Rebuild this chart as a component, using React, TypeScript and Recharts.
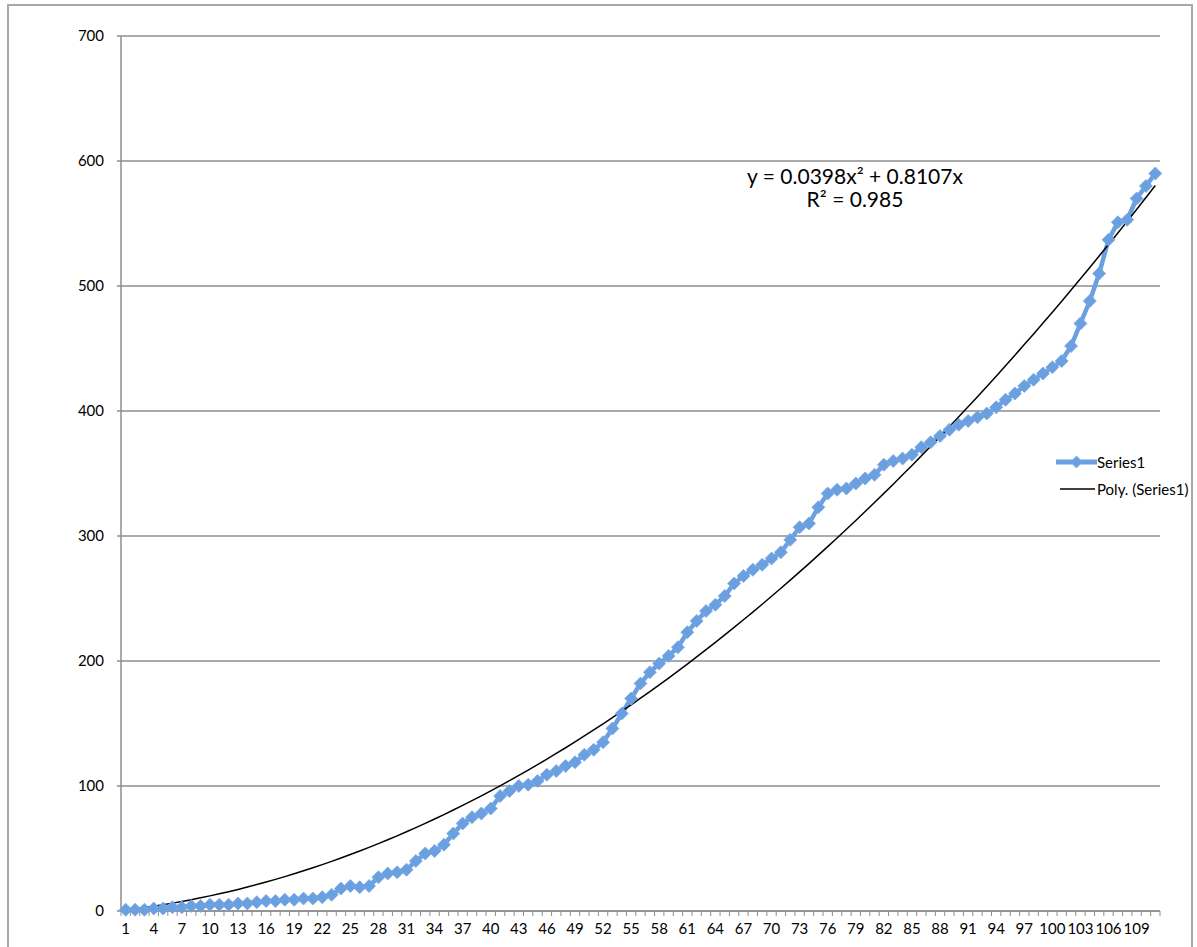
import React from 'react';
import { LineChart, Line, XAxis, YAxis, CartesianGrid } from 'recharts';

const categories: string[] = Array.from({ length: 111 }, (_, i) => String(i + 1));

const series1: number[] = [
  1, 1, 1, 2, 2, 3, 3, 4, 4, 5,
  5, 5, 6, 6, 7, 8, 8, 9, 9, 10,
  10, 11, 13, 18, 20, 19, 20, 27, 30, 31,
  33, 40, 46, 48, 53, 62, 70, 75, 78, 82,
  92, 96, 100, 101, 104, 109, 112, 116, 119, 125,
  129, 135, 146, 158, 170, 182, 191, 198, 204, 211,
  223, 232, 240, 245, 252, 262, 268, 273, 277, 282,
  287, 297, 307, 310, 323, 334, 337, 338, 342, 346,
  349, 357, 360, 362, 365, 371, 375, 380, 385, 389,
  392, 395, 398, 403, 409, 414, 420, 425, 430, 435,
  440, 452, 470, 488, 510, 537, 551, 553, 570, 580,
  590,
];

// Poly. (Series1) trendline values as printed: y = 0.0398x² + 0.8107x
const trendValues: number[] = [
  0.85, 1.78, 2.79, 3.88, 5.05, 6.3, 7.63, 9.03, 10.52, 12.09,
  13.73, 15.46, 17.27, 19.15, 21.12, 23.16, 25.28, 27.49, 29.77, 32.13,
  34.58, 37.1, 39.7, 42.38, 45.14, 47.98, 50.9, 53.9, 56.98, 60.14,
  63.38, 66.7, 70.1, 73.57, 77.13, 80.77, 84.48, 88.28, 92.15, 96.11,
  100.14, 104.26, 108.45, 112.72, 117.08, 121.51, 126.02, 130.61, 135.28, 140.04,
  144.87, 149.78, 154.77, 159.83, 164.98, 170.21, 175.52, 180.91, 186.38, 191.92,
  197.55, 203.25, 209.04, 214.91, 220.85, 226.88, 232.98, 239.16, 245.43, 251.77,
  258.19, 264.69, 271.28, 277.94, 284.68, 291.5, 298.4, 305.38, 312.44, 319.58,
  326.79, 334.09, 341.47, 348.93, 356.46, 364.08, 371.78, 379.55, 387.41, 395.34,
  403.36, 411.45, 419.63, 427.88, 436.21, 444.62, 453.12, 461.69, 470.34, 479.07,
  487.88, 496.77, 505.74, 514.79, 523.92, 533.13, 542.42, 551.78, 561.23, 570.76,
  580.36,
];

const yTicks: number[] = [0, 100, 200, 300, 400, 500, 600, 700];

const chartData = categories.map((c, i) => ({
  cat: c,
  value: series1[i],
  trend: trendValues[i],
}));

const FONT = 'Lato, "Open Sans", sans-serif';
const BLUE = '#6a9fe0';
const GRID = '#8e8e8e';
const CHART_W = 1197;
const CHART_H = 947;
const MARGIN = { top: 36, right: 37, left: 61, bottom: 6 };
const Y_AXIS_W = 60;
const PLOT_W = CHART_W - MARGIN.left - MARGIN.right - Y_AXIS_W;
const BAND_HALF = PLOT_W / categories.length / 2;

function XTick(props: any) {
  const { x, y, payload, index } = props;
  const showLabel = index % 3 === 0;
  const isLast = index === categories.length - 1;
  return (
    <g>
      <line x1={x - BAND_HALF} x2={x - BAND_HALF} y1={y} y2={y + 5} stroke={GRID} strokeWidth={1} />
      {isLast && (
        <line x1={x + BAND_HALF} x2={x + BAND_HALF} y1={y} y2={y + 5} stroke={GRID} strokeWidth={1} />
      )}
      {showLabel && (
        <text x={x} y={y + 23} textAnchor="middle" fontSize={15} fontFamily={FONT} fill="#000">
          {payload.value}
        </text>
      )}
    </g>
  );
}

function Diamond(props: any) {
  const { cx, cy, index } = props;
  if (cx == null || cy == null) return <g key={`d-${index}`} />;
  const r = 6.5;
  return (
    <polygon
      key={`d-${index}`}
      points={`${cx},${cy - r} ${cx + r},${cy} ${cx},${cy + r} ${cx - r},${cy}`}
      fill={BLUE}
      stroke="#7aaae6"
      strokeWidth={0.8}
    />
  );
}

export default function App() {
  return (
    <div
      style={{
        position: 'absolute',
        left: 0,
        top: 0,
        width: CHART_W,
        height: CHART_H,
        background: '#fff',
        fontFamily: FONT,
        overflow: 'hidden',
      }}
    >
      <div
        style={{
          position: 'absolute',
          left: 7,
          top: 4,
          width: 1186,
          height: 980,
          border: '2px solid #a8a8a8',
          boxSizing: 'border-box',
        }}
      />
      <div style={{ position: 'absolute', left: 0, top: 0 }}>
        <LineChart width={CHART_W} height={CHART_H} data={chartData} margin={MARGIN}>
          <CartesianGrid vertical={false} stroke={GRID} strokeWidth={1.5} />
          <XAxis
            dataKey="cat"
            interval={0}
            height={30}
            padding={{ left: BAND_HALF, right: BAND_HALF }}
            tickLine={false}
            tickSize={0}
            tickMargin={0}
            axisLine={{ stroke: GRID, strokeWidth: 1.5 }}
            tick={<XTick />}
          />
          <YAxis
            width={Y_AXIS_W}
            domain={[0, 700]}
            ticks={yTicks}
            tickSize={4}
            tickMargin={13}
            axisLine={{ stroke: GRID, strokeWidth: 1.5 }}
            tickLine={{ stroke: GRID, strokeWidth: 1.5 }}
            tick={{ fontSize: 15, fontFamily: FONT, fill: '#000' }}
          />
          <Line
            type="linear"
            dataKey="value"
            name="Series1"
            stroke={BLUE}
            strokeWidth={4.5}
            dot={(p: any) => <Diamond {...p} key={`dot-${p.index}`} />}
            activeDot={false}
            isAnimationActive={false}
          />
          <Line
            type="monotone"
            dataKey="trend"
            name="Poly. (Series1)"
            stroke="#000"
            strokeWidth={1.5}
            dot={false}
            activeDot={false}
            isAnimationActive={false}
          />
        </LineChart>
      </div>

      <div
        style={{
          position: 'absolute',
          left: 705,
          top: 164,
          width: 300,
          textAlign: 'center',
          fontSize: 21,
          lineHeight: '23px',
          color: '#000',
        }}
      >
        <div>y = 0.0398x² + 0.8107x</div>
        <div>R² = 0.985</div>
      </div>

      <div style={{ position: 'absolute', left: 1056, top: 452, fontSize: 15, color: '#000' }}>
        <div style={{ display: 'flex', alignItems: 'center', height: 20 }}>
          <svg width={41} height={16} style={{ display: 'block' }}>
            <line x1={0} x2={41} y1={8} y2={8} stroke={BLUE} strokeWidth={5} />
            <polygon points="20.5,2 26.5,8 20.5,14 14.5,8" fill={BLUE} stroke="#7aaae6" strokeWidth={0.8} />
          </svg>
          <span>Series1</span>
        </div>
        <div style={{ display: 'flex', alignItems: 'center', height: 20, marginTop: 7 }}>
          <svg width={41} height={16} style={{ display: 'block' }}>
            <line x1={4} x2={39} y1={8} y2={8} stroke="#000" strokeWidth={1.5} />
          </svg>
          <span>Poly. (Series1)</span>
        </div>
      </div>
    </div>
  );
}
